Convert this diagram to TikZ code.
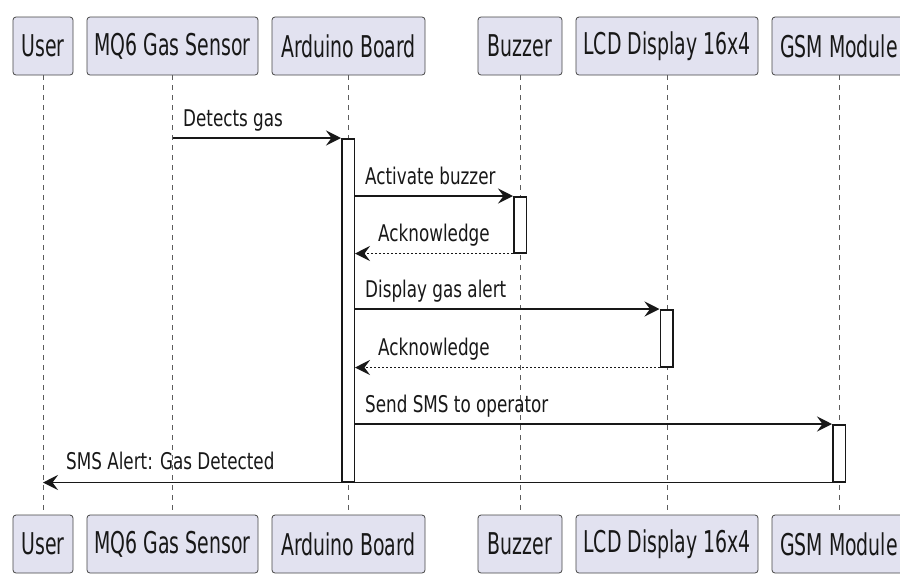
\documentclass[tikz,border=0pt]{standalone}
\usepackage{fontspec}
\setmainfont{DejaVu Sans}
\newfontfamily\partfont[FakeStretch=0.63]{DejaVu Sans}
\newfontfamily\msgfont[FakeStretch=0.73]{DejaVu Sans}
\usetikzlibrary{arrows.meta}
\definecolor{partfill}{HTML}{E2E2F0}
\definecolor{ink}{HTML}{181818}
\begin{document}
\begin{tikzpicture}[x=1pt,y=-1pt,
  part/.style={draw=ink!80, line width=0.8pt, fill=partfill, rounded corners=3pt,
    minimum height=58pt, inner sep=0pt, text=ink,
    font=\partfont\fontsize{30}{30}\selectfont},
  life/.style={draw=ink!70, line width=0.8pt, dash pattern=on 5pt off 5pt},
  actbar/.style={draw=ink, line width=1.5pt, fill=white, minimum width=12.5pt, inner sep=0pt},
  msg/.style={draw=ink, line width=1.7pt, -{Stealth[length=15pt,width=15pt,inset=5.5pt]}},
  ret/.style={msg, dash pattern=on 2pt off 2pt},
  lbl/.style={anchor=base west, inner sep=0pt, text=ink, font=\msgfont\fontsize{23}{23}\selectfont}]
\useasboundingbox (0,0) rectangle (900,574);
\clip (0,0) rectangle (900,574);
\fill[white] (0,0) rectangle (900,574);
% participants top
\node[part, minimum width=60pt]  (pU) at (43,46)    {User};
\node[part, minimum width=171pt] (pM) at (172.5,46) {MQ6 Gas Sensor};
\node[part, minimum width=153pt] (pA) at (348.5,46) {Arduino Board};
\node[part, minimum width=84pt]  (pB) at (520,46)   {Buzzer};
\node[part, minimum width=182pt] (pL) at (667,46)   {LCD Display 16x4};
\node[part, minimum width=134pt] (pG) at (839,46)   {GSM Module};
% participants bottom
\node[part, minimum width=60pt]  (qU) at (43,544)    {User};
\node[part, minimum width=171pt] (qM) at (172.5,544) {MQ6 Gas Sensor};
\node[part, minimum width=153pt] (qA) at (348.5,544) {Arduino Board};
\node[part, minimum width=84pt]  (qB) at (520,544)   {Buzzer};
\node[part, minimum width=182pt] (qL) at (667,544)   {LCD Display 16x4};
\node[part, minimum width=134pt] (qG) at (839,544)   {GSM Module};
% lifelines
\foreach \t/\b in {pU/qU,pM/qM,pA/qA,pB/qB,pL/qL,pG/qG}
  \draw[life] (\t) -- (\b);
% activation bars
\node[actbar, minimum height=343pt, anchor=north] (aA) at (348,138) {};
\node[actbar, minimum height=56pt,  anchor=north] (aB) at (520,196) {};
\node[actbar, minimum height=57pt,  anchor=north] (aL) at (666.5,309) {};
\node[actbar, minimum height=57pt,  anchor=north] (aG) at (839,424) {};
% messages
\coordinate (sM) at (pM |- aA.north);
\draw[msg] (sM) -- (aA.north west);
\node[lbl] (t1) at (183,126) {Detects gas};
\draw[msg] (aA.east |- aB.north) -- (aB.north west);
\node[lbl] (t2) at (365,184) {Activate buzzer};
\draw[ret] (aB.south west) -- (aA.east |- aB.south);
\node[lbl] (t3) at (378,241) {Acknowledge};
\draw[msg] (aA.east |- aL.north) -- (aL.north west);
\node[lbl] (t4) at (365,297) {Display gas alert};
\draw[ret] (aL.south west) -- (aA.east |- aL.south);
\node[lbl] (t5) at (378,355) {Acknowledge};
\draw[msg] (aA.east |- aG.north) -- (aG.north west);
\node[lbl] (t6) at (365,412) {Send SMS to operator};
\coordinate (eU) at (pU |- aG.south);
\draw[msg] (aG.south west) -- (eU);
\node[lbl] (t7) at (66,469) {SMS Alert: Gas Detected};
\end{tikzpicture}
\end{document}
